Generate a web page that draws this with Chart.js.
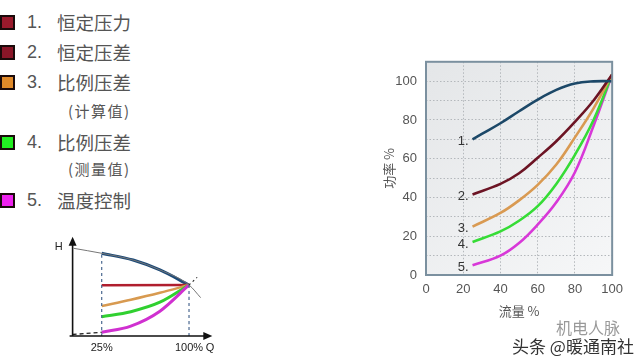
<!DOCTYPE html>
<html><head><meta charset="utf-8">
<script src="https://cdn.jsdelivr.net/npm/chart.js@4.4.1/dist/chart.umd.min.js"></script>
<style>
html,body{margin:0;padding:0;background:#fff;width:640px;height:361px;overflow:hidden;font-family:"Liberation Sans","Noto Sans CJK SC",sans-serif;}
#legend{position:absolute;left:0;top:0;}
.item{position:absolute;left:0;height:20px;white-space:nowrap;color:#555;}
.sq{position:absolute;left:0;width:11px;height:11px;border:2px solid #1a0a0a;}
.num{position:absolute;left:27px;font-size:18px;line-height:20px;font-family:"Liberation Sans",sans-serif;}
.txt{position:absolute;left:57px;font-size:18.5px;line-height:20px;font-family:"Noto Sans CJK SC",sans-serif;}
.sub{position:absolute;left:68px;font-size:15px;line-height:18px;color:#555;white-space:nowrap;letter-spacing:1.5px;font-family:"Noto Sans CJK SC",sans-serif;}
#main{position:absolute;left:360px;top:45px;width:270px;height:300px;}
#small{position:absolute;left:40px;top:225px;width:200px;height:136px;}
canvas{display:block;}
.wm{position:absolute;font-family:"Noto Sans CJK SC",sans-serif;white-space:nowrap;}
</style></head>
<body>
<div id="legend"></div>
<div id="main"><canvas id="c1" width="270" height="300"></canvas></div>
<div id="small"><canvas id="c2" width="200" height="136"></canvas></div>
<div class="wm" style="left:556px;top:315px;font-size:16px;color:#999;">机电人脉</div>
<div class="wm" style="left:512px;top:333px;font-size:17px;color:#333;text-shadow:0 0 2px #fff,0 0 2px #fff;">头条 @暖通南社</div>
<script>
// ---- Legend data ----
const legendNums = ['1.', '2.', '3.', '4.', '5.'];
const legendNames = ['恒定压力', '恒定压差', '比例压差', '比例压差', '温度控制'];
const legendSubs = ['', '', '(计算值)', '(测量值)', ''];
const legendSquareColors = ['#9a1a2c', '#8a1628', '#e08a2a', '#22ee22', '#ee22ee'];

// ---- Main chart data (流量 % vs 功率 %) ----
const flow1 = [25, 30, 40, 50, 60, 70, 80, 90, 100];
const power1 = [70, 72.8, 78.3, 84.5, 90.5, 95.5, 98.8, 99.9, 100];
const flow2 = [25, 40, 50, 60, 70, 80, 90, 100];
const power2 = [41.5, 47, 52.5, 60.5, 69, 79, 90, 103.5];
const flow3 = [25, 40, 50, 60, 70, 80, 90, 100];
const power3 = [25, 32, 38.5, 46.5, 57, 71, 86, 103.5];
const flow4 = [25, 40, 50, 60, 70, 80, 90, 100];
const power4 = [17, 22.5, 28, 35.5, 47, 62, 80, 103.5];
const flow5 = [25, 40, 50, 60, 70, 80, 90, 100];
const power5 = [5, 10, 16.5, 26, 37.5, 53, 77, 103.5];
const curveLabels = ['1.', '2.', '3.', '4.', '5.'];
const curveColors = ['#1c4868', '#6c1424', '#d99a52', '#36dc36', '#d838d8'];
const xTicksMain = [0, 20, 40, 60, 80, 100];
const yLabelsMain = [0, 20, 40, 60, 80, 100];

// ---- Small H-Q diagram data ----
const pumpQ = [1, 25, 52, 75, 100, 110];
const pumpH = [88.3, 83.3, 76.5, 66.5, 51.4, 38.6];
const pumpBoldQ = [25, 52, 75, 100];
const pumpBoldH = [83.3, 76.5, 66.5, 51.4];
const constQ = [25, 100];
const constH = [51, 51.4];
const propCalcQ = [25, 50, 75, 100];
const propCalcH = [30.2, 36.5, 43.5, 51.4];
const propMeasQ = [25, 50, 75, 100];
const propMeasH = [19.4, 24.5, 34, 51.4];
const tempQ = [25, 50, 75, 100];
const tempH = [3.7, 10, 25, 51.4];
const sysLowQ = [0, 25];
const sysLowH = [1.5, 3.7];
const sysHighQ = [100, 107];
const sysHighH = [51.4, 59];
const guide25Q = [25, 25];
const guide25H = [0, 83.3];
const guide100Q = [100, 100];
const guide100H = [0, 51.4];
const smallTickValues = [25, 100, 118];
const smallTickLabels = ['25%', '100%', 'Q'];
const smallColors = ['#1c4a78', '#b01e2e', '#d89a50', '#30d030', '#d030d0'];

// ---- Build legend ----
const legendTops = [12, 42, 72, 132, 190];
const subTops = [0, 0, 102, 160, 0];
const lg = document.getElementById('legend');
legendNums.forEach((n, i) => {
  const d = document.createElement('div');
  d.className = 'item';
  d.style.top = legendTops[i] + 'px';
  d.innerHTML = '<div class="sq" style="top:3px;background:' + legendSquareColors[i] + '"></div>' +
    '<div class="num">' + n + '</div><div class="txt">' + legendNames[i] + '</div>';
  lg.appendChild(d);
  if (legendSubs[i]) {
    const s = document.createElement('div');
    s.className = 'sub';
    s.style.top = subTops[i] + 'px';
    s.textContent = legendSubs[i];
    lg.appendChild(s);
  }
});

const toPts = (xs, ys) => xs.map((x, i) => ({x: x, y: ys[i]}));

// ---- Main chart ----
const bgPlugin = {
  id: 'bg',
  beforeDraw(chart) {
    const {ctx, chartArea: a} = chart;
    const g = ctx.createLinearGradient(a.left, a.top, a.right, a.bottom);
    g.addColorStop(0, '#e4e6e8');
    g.addColorStop(1, '#f6f7f8');
    ctx.save();
    ctx.fillStyle = g;
    ctx.fillRect(a.left, a.top, a.right - a.left, a.bottom - a.top);
    ctx.restore();
  },
  afterDraw(chart) {
    const {ctx, chartArea: a} = chart;
    ctx.save();
    ctx.strokeStyle = '#7b909f';
    ctx.lineWidth = 2;
    ctx.strokeRect(a.left, a.top, a.right - a.left, a.bottom - a.top);
    ctx.font = '13px "Liberation Sans", sans-serif';
    ctx.fillStyle = '#333';
    ctx.textAlign = 'right';
    ctx.textBaseline = 'middle';
    chart.data.datasets.forEach((ds, i) => {
      const p = chart.getDatasetMeta(i).data[0];
      ctx.fillText(curveLabels[i], p.x - 4, p.y + 2);
    });
    ctx.restore();
  }
};

const mainSets = [[flow1, power1], [flow2, power2], [flow3, power3], [flow4, power4], [flow5, power5]];
new Chart(document.getElementById('c1'), {
  type: 'line',
  data: {
    datasets: mainSets.map((s, i) => ({
      data: toPts(s[0], s[1]),
      borderColor: curveColors[i],
      borderWidth: 2.6,
      pointRadius: 0,
      fill: false,
      tension: 0.4
    }))
  },
  options: {
    responsive: false,
    animation: false,
    devicePixelRatio: 1,
    layout: {padding: {top: 10, right: 11, left: 0, bottom: 0}},
    plugins: {legend: {display: false}, tooltip: {enabled: false}},
    scales: {
      x: {
        type: 'linear', min: 0, max: 100,
        afterBuildTicks(s) { s.ticks = xTicksMain.map(v => ({value: v})); },
        afterFit(s) { s.height = 70; },
        grid: {color: '#b4b8bc', lineWidth: 1, drawTicks: false},
        border: {display: false, dash: [1.5, 2]},
        ticks: {color: '#555', font: {size: 13, family: '"Liberation Sans", sans-serif'}, padding: 7, maxRotation: 0},
        title: {display: true, text: '流量 %', color: '#555', font: {size: 13, family: '"Noto Sans CJK SC", sans-serif'}, padding: {top: 0, bottom: 26}}
      },
      y: {
        type: 'linear', min: 0, max: 110,
        afterBuildTicks(s) { const t = []; for (let v = 0; v <= 110; v += 10) t.push({value: v}); s.ticks = t; },
        afterFit(s) { s.width = 66; },
        grid: {color: '#b4b8bc', lineWidth: 1, drawTicks: false},
        border: {display: false, dash: [1.5, 2]},
        ticks: {
          color: '#555', font: {size: 13, family: '"Liberation Sans", sans-serif'}, padding: 9,
          callback: v => yLabelsMain.includes(v) ? String(v) : ''
        },
        title: {display: true, text: '功率 %', color: '#555', font: {size: 13, family: '"Noto Sans CJK SC", sans-serif'}, padding: {top: 21, bottom: 0}}
      }
    }
  },
  plugins: [bgPlugin]
});

// ---- Small diagram ----
const arrowPlugin = {
  id: 'arrows',
  afterDraw(chart) {
    const {ctx, chartArea: a, scales} = chart;
    const x0 = scales.x.getPixelForValue(0);
    const y0 = scales.y.getPixelForValue(0);
    ctx.save();
    ctx.strokeStyle = '#111';
    ctx.fillStyle = '#111';
    ctx.lineWidth = 1.6;
    ctx.beginPath();
    ctx.moveTo(x0, y0); ctx.lineTo(x0, a.top + 4);
    ctx.moveTo(x0 - 3, y0); ctx.lineTo(a.right - 4, y0);
    ctx.stroke();
    ctx.beginPath();
    ctx.moveTo(x0, a.top); ctx.lineTo(x0 - 4, a.top + 9); ctx.lineTo(x0 + 4, a.top + 9); ctx.closePath();
    ctx.fill();
    ctx.beginPath();
    ctx.moveTo(a.right, y0); ctx.lineTo(a.right - 9, y0 - 4); ctx.lineTo(a.right - 9, y0 + 4); ctx.closePath();
    ctx.fill();
    ctx.font = '11px "Liberation Sans", sans-serif';
    ctx.textAlign = 'center';
    ctx.textBaseline = 'middle';
    ctx.fillStyle = '#222';
    ctx.fillText('H', x0 - 14, scales.y.getPixelForValue(90));
    smallTickValues.forEach((v, i) => {
      ctx.fillText(smallTickLabels[i], scales.x.getPixelForValue(v), y0 + 12);
    });
    ctx.restore();
  }
};

const smallDs = (xs, ys, color, width, extra) => Object.assign({
  data: toPts(xs, ys), borderColor: color, borderWidth: width, pointRadius: 0, fill: false,
  cubicInterpolationMode: 'monotone'
}, extra || {});

new Chart(document.getElementById('c2'), {
  type: 'line',
  data: {
    datasets: [
      smallDs(guide25Q, guide25H, '#4a6890', 1.2, {borderDash: [3, 3]}),
      smallDs(guide100Q, guide100H, '#4a6890', 1.2, {borderDash: [3, 3]}),
      smallDs(sysLowQ, sysLowH, '#222', 1.3, {borderDash: [4, 3]}),
      smallDs(sysHighQ, sysHighH, '#222', 1.1, {borderDash: [2, 3]}),
      smallDs(pumpQ, pumpH, '#777', 1),
      smallDs(tempQ, tempH, smallColors[4], 3),
      smallDs(propMeasQ, propMeasH, smallColors[3], 3),
      smallDs(propCalcQ, propCalcH, smallColors[2], 2.5),
      smallDs(constQ, constH, smallColors[1], 2.5),
      smallDs(pumpBoldQ, pumpBoldH, smallColors[0], 3)
    ]
  },
  options: {
    responsive: false,
    animation: false,
    devicePixelRatio: 1,
    layout: {padding: {top: 11.7, right: 27.7, left: 32.6, bottom: 25}},
    plugins: {legend: {display: false}, tooltip: {enabled: false}},
    scales: {
      x: {type: 'linear', min: 0, max: 120, display: false},
      y: {type: 'linear', min: 0, max: 100, display: false}
    }
  },
  plugins: [arrowPlugin]
});
</script>
</body></html>
